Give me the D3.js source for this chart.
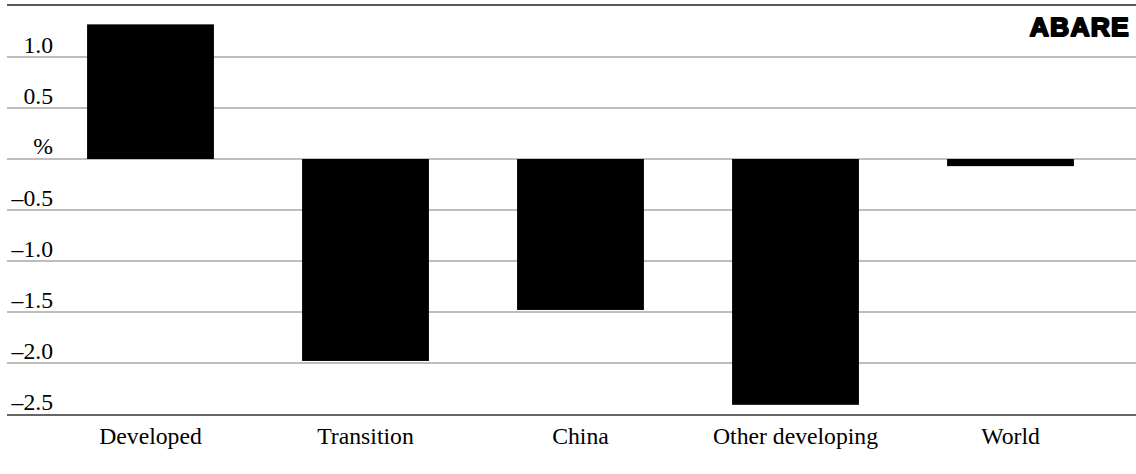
<!DOCTYPE html>
<html>
<head>
<meta charset="utf-8">
<script src="https://cdn.jsdelivr.net/npm/d3@7"></script>
<style>
  html, body { margin: 0; padding: 0; background: #fff; }
  svg { display: block; }
</style>
</head>
<body>
<svg id="chart" width="1136" height="474"></svg>
<script>
const categories = ["Developed", "Transition", "China", "Other developing", "World"];
const values = [1.32, -1.98, -1.48, -2.41, -0.07];
const tickValues = [1.0, 0.5, 0, -0.5, -1.0, -1.5, -2.0, -2.5];
const tickLabels = ["1.0", "0.5", "%", "–0.5", "–1.0", "–1.5", "–2.0", "–2.5"];
const sourceLabel = "ABARE";

const W = 1136, H = 474;
const svg = d3.select("#chart");
const serif = "'Liberation Serif', 'Times New Roman', serif";

const y = d3.scaleLinear().domain([-2.5, 1.5]).range([414, 6]);
const x = d3.scaleBand().domain(categories).range([43, 1118]).paddingInner(0.41).paddingOuter(0.205);

const lineLeft = 7;

// gridlines
svg.append("g").selectAll("line")
  .data(tickValues.filter(v => v !== -2.5))
  .join("line")
  .attr("x1", lineLeft).attr("x2", W)
  .attr("y1", d => y(d)).attr("y2", d => y(d))
  .attr("stroke", "#a8a8a8").attr("stroke-width", 1.3);

// bars
svg.append("g").selectAll("rect")
  .data(categories.map((c, i) => ({c, v: values[i]})))
  .join("rect")
  .attr("x", d => x(d.c))
  .attr("width", x.bandwidth())
  .attr("y", d => y(Math.max(0, d.v)))
  .attr("height", d => Math.abs(y(d.v) - y(0)))
  .attr("fill", "#000");

// top frame line
svg.append("line")
  .attr("x1", lineLeft).attr("x2", W)
  .attr("y1", y(1.5) - 1).attr("y2", y(1.5) - 1)
  .attr("stroke", "#222").attr("stroke-width", 1.6);

// bottom axis line
svg.append("line")
  .attr("x1", lineLeft).attr("x2", W)
  .attr("y1", y(-2.5) + 1).attr("y2", y(-2.5) + 1)
  .attr("stroke", "#333").attr("stroke-width", 1.6);

// y tick labels
svg.append("g").selectAll("text")
  .data(tickValues)
  .join("text")
  .attr("x", 53)
  .attr("y", (d) => y(d) - (d === 0 ? 5 : 4))
  .attr("text-anchor", "end")
  .attr("font-family", serif)
  .attr("font-size", 23.7)
  .attr("fill", "#000")
  .text((d, i) => tickLabels[i]);

// x category labels
const xAxis = d3.axisBottom(x).tickSize(0).tickPadding(0);
const gx = svg.append("g").attr("transform", `translate(0, ${y(-2.5)})`).call(xAxis);
gx.select(".domain").remove();
gx.selectAll("text")
  .attr("dy", null)
  .attr("y", 30)
  .attr("font-family", serif)
  .attr("font-size", 23.7)
  .attr("fill", "#000");

// ABARE mark
svg.append("text")
  .attr("x", 1130)
  .attr("y", 35.5)
  .attr("text-anchor", "end")
  .attr("font-family", "'Liberation Sans', Arial, sans-serif")
  .attr("font-weight", 900)
  .attr("font-size", 26.5)
  .attr("letter-spacing", 1.2)
  .attr("stroke", "#000").attr("stroke-width", 2)
  .attr("stroke-linejoin", "round")
  .attr("fill", "#000")
  .text(sourceLabel);
</script>
</body>
</html>
